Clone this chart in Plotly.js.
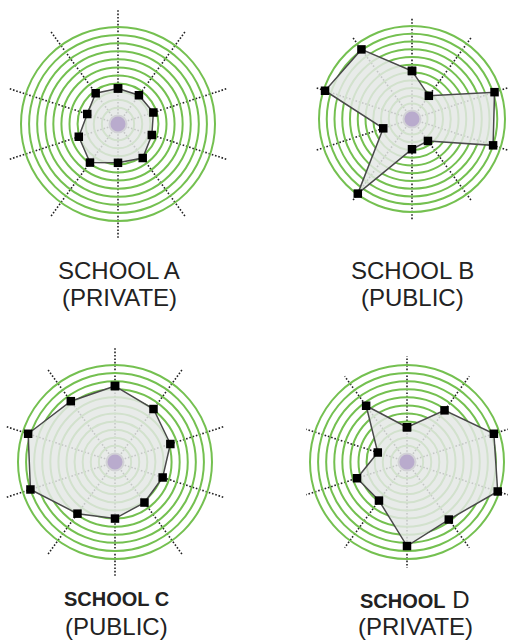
<!DOCTYPE html>
<html>
<head>
<meta charset="utf-8">
<script src="https://cdn.plot.ly/plotly-3.0.1.min.js"></script>
<style>html,body{margin:0;padding:0;background:#fff;}#chart{width:513px;height:640px;}</style>
</head>
<body>
<div id="chart"></div>
<script>
// Ten dimensions, clockwise from the top
var categories = ["D1","D2","D3","D4","D5","D6","D7","D8","D9","D10"];
// Scores on a 0-12 ring scale
var schoolA = [4.4, 4.4, 4.6, 4.4, 5.2, 4.8, 5.9, 5.1, 4.0, 4.7];
var schoolB = [6.2, 3.7, 11.2, 11.0, 3.5, 3.9, 11.9, 3.9, 11.8, 11.1];
var schoolC = [9.4, 8.1, 7.2, 6.2, 6.2, 7.0, 7.9, 11.0, 11.3, 9.3];
var schoolD = [4.3, 7.9, 11.3, 11.8, 8.8, 10.4, 5.9, 6.5, 3.8, 8.6];
var ringTicks = [1,2,3,4,5,6,7,8,9,10,11,12];
var titleLine1 = ["SCHOOL A", "SCHOOL B", "<b>SCHOOL C</b>", "<b>SCHOOL</b><span style=\"font-size:24px\"> D</span>"];
var titleLine2 = ["(PRIVATE)", "(PUBLIC)", "(PUBLIC)", "(PRIVATE)"];

var W = 513, H = 640;
var FONT = "Liberation Sans, Arial, Helvetica, sans-serif";
// subplot geometry: center px, polar radius px, outer ring radius px
var geo = [
  {cx:118, cy:124, R:114, ring:97},
  {cx:412, cy:119, R:101, ring:93},
  {cx:115, cy:462, R:114, ring:97},
  {cx:407, cy:462, R:106, ring:97}
];
var series = [schoolA, schoolB, schoolC, schoolD];

var data = [];
var layout = {
  width: W, height: H,
  margin: {l:0, r:0, t:0, b:0},
  paper_bgcolor: "#fff",
  showlegend: false,
  font: {family: FONT, color: "#222"},
  annotations: []
};

series.forEach(function(vals, i) {
  var pid = i === 0 ? "polar" : "polar" + (i + 1);
  var g = geo[i];
  var rmax = 12 * g.R / g.ring;
  layout[pid] = {
    domain: {
      x: [(g.cx - g.R) / W, Math.min(1, (g.cx + g.R) / W)],
      y: [1 - (g.cy + g.R) / H, 1 - (g.cy - g.R) / H]
    },
    bgcolor: "rgba(0,0,0,0)",
    radialaxis: {
      range: [0, rmax], tickvals: ringTicks, showticklabels: false, ticks: "",
      showline: false, gridcolor: "#74c050", gridwidth: 2, layer: "below traces"
    },
    angularaxis: {
      type: "category", categoryarray: categories, direction: "clockwise", rotation: 90,
      showline: false, showticklabels: false, ticks: "",
      gridcolor: "#222", gridwidth: 1.6, griddash: "1.6px,1.8px", layer: "below traces"
    }
  };
  data.push({
    type: "scatterpolar", subplot: pid,
    r: vals.concat([vals[0]]),
    theta: categories.concat([categories[0]]),
    mode: "lines+markers",
    fill: "toself",
    fillcolor: "rgba(228,231,229,0.84)",
    line: {color: "#4a4a4a", width: 1.5},
    marker: {symbol: "square", size: 8.5, color: "#000"},
    hoverinfo: "skip"
  });
  data.push({
    type: "scatterpolar", subplot: pid,
    r: [0], theta: [categories[0]],
    mode: "markers",
    marker: {size: 17, color: "#b9abcd", line: {color: "#d2d2d6", width: 2}},
    hoverinfo: "skip"
  });
  var top = i < 2;
  var cxText = [119, 412, 116, 415][i];
  layout.annotations.push({
    xref: "paper", yref: "paper", x: cxText / W, xanchor: "center",
    y: 1 - (top ? 270 : 599) / H, yanchor: "middle",
    text: titleLine1[i], showarrow: false,
    font: {family: FONT, size: top ? 24 : 20, color: "#222"}
  });
  layout.annotations.push({
    xref: "paper", yref: "paper", x: cxText / W, xanchor: "center",
    y: 1 - (top ? 297 : 626) / H, yanchor: "middle",
    text: titleLine2[i], showarrow: false,
    font: {family: FONT, size: 24, color: "#222"}
  });
});

Plotly.newPlot("chart", data, layout, {staticPlot: true, displayModeBar: false});
</script>
</body>
</html>
